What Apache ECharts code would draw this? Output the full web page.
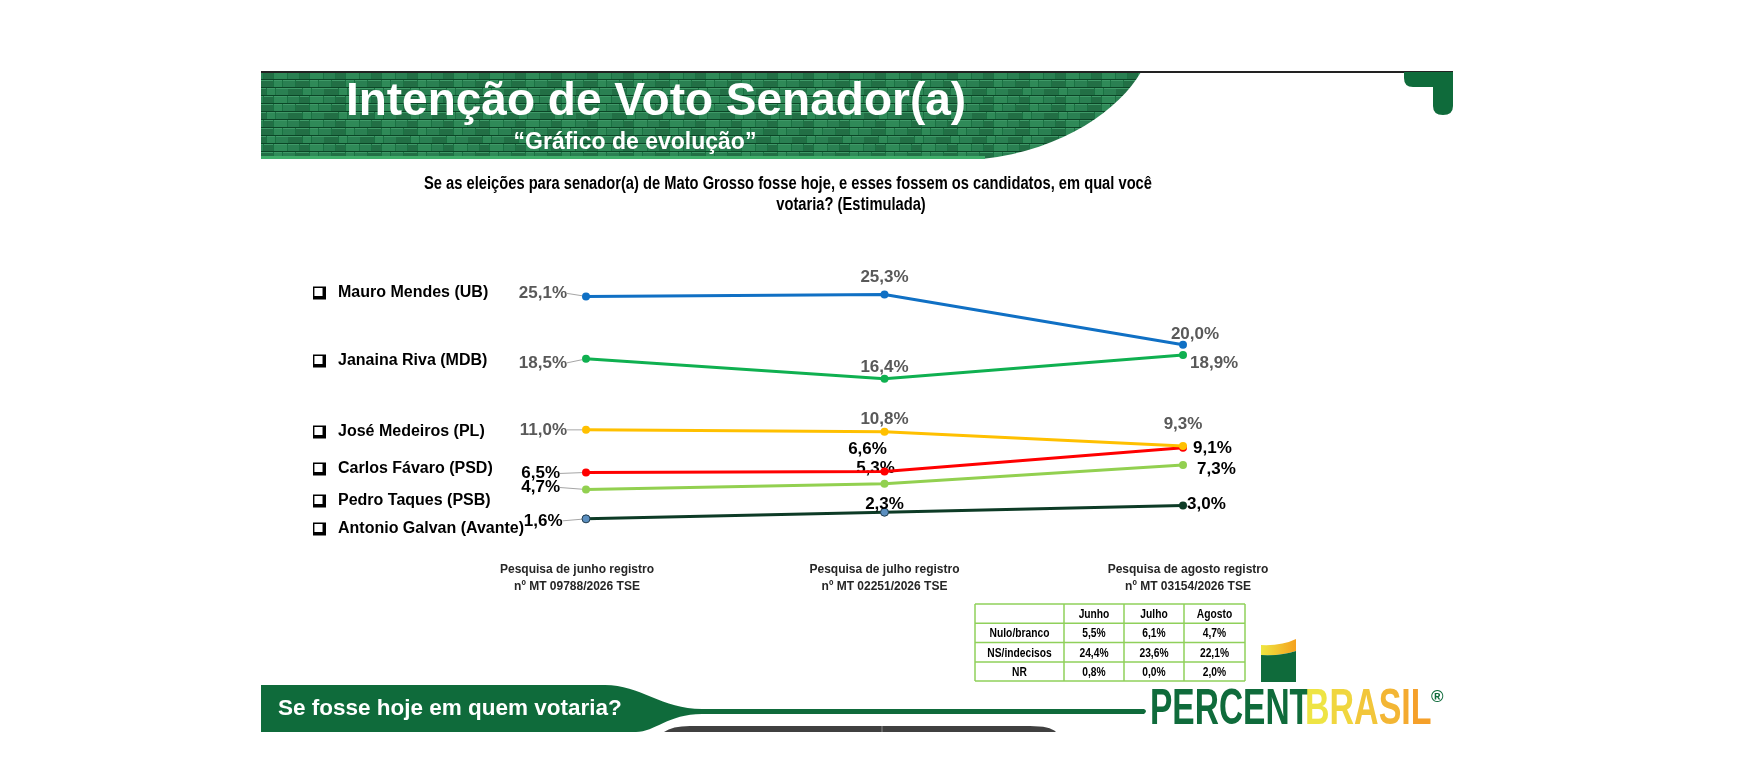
<!DOCTYPE html>
<html lang="pt-BR">
<head>
<meta charset="UTF-8" />
<title>Intenção de Voto Senador(a)</title>
</head>
<body>
<style>
* {
  margin: 0;
  padding: 0;
}
#chart {
  width: 1744px;
  height: 773px;
  background-color: #fff;
}
</style>
<div id="chart"></div>
<script src="https://cdn.jsdelivr.net/npm/echarts@6/dist/echarts.min.js"></script>
<script>
// dados
const surveys = [
  'Pesquisa de junho registro\nnº MT 09788/2026 TSE',
  'Pesquisa de julho registro\nnº MT 02251/2026 TSE',
  'Pesquisa de agosto registro\nnº MT 03154/2026 TSE'
];
const candidates = [
  'Mauro Mendes (UB)',
  'Janaina Riva (MDB)',
  'José Medeiros (PL)',
  'Carlos Fávaro (PSD)',
  'Pedro Taques (PSB)',
  'Antonio Galvan (Avante)'
];
const mauroMendes = [25.1, 25.3, 20.0];
const janainaRiva = [18.5, 16.4, 18.9];
const joseMedeiros = [11.0, 10.8, 9.3];
const carlosFavaro = [6.5, 6.6, 9.1];
const pedroTaques = [4.7, 5.3, 7.3];
const antonioGalvan = [1.6, 2.3, 3.0];

const tableColumns = ['Junho', 'Julho', 'Agosto'];
const tableRowLabels = ['Nulo/branco', 'NS/indecisos', 'NR'];
const nuloBranco = [5.5, 6.1, 4.7];
const nsIndecisos = [24.4, 23.6, 22.1];
const naoRespondeu = [0.8, 0.0, 2.0];

const SANS = "'Liberation Sans', Arial, sans-serif";
const GREEN = '#0f6b3b';
const NARROW_X = 0.82;

const fmt = v => v.toFixed(1).replace('.', ',') + '%';

// estilo de cada serie
const lineColors = ['#1070c4', '#0fb050', '#ffc000', '#ff0000', '#92d050', '#0d3b26'];
const labelColors = ['#595959', '#595959', '#595959', '#000', '#000', '#000'];
const legendCenters = [293, 361, 432, 469, 501, 529];
// posicao dos rotulos: [posicao, distancia, dx, dy, linha guia]
const labelPlacement = [
  [['left', 5, -10, -3, true], ['top', 5, 0, 0], ['top', 5, 12, 7]],
  [['left', 5, -10, 4, true], ['top', 5, 0, 6], ['right', 3, 0, 8]],
  [['left', 5, -10, 0, true], ['top', 5, 0, 5], ['top', 5, 0, -4]],
  [['left', 5, -17, 1, true], ['top', 5, -17, -5], ['right', 6, 0, 0]],
  [['left', 5, -17, -2, true], ['top', 5, -9, 2], ['right', 10, 0, 4]],
  [['left', 5, -14, 2, true], ['top', 5, 0, 10], ['right', 0, 0, -1]]
];

const seriesValues = [mauroMendes, janainaRiva, joseMedeiros, carlosFavaro, pedroTaques, antonioGalvan];

const series = seriesValues.map(function (values, s) {
  return {
    name: candidates[s],
    type: 'line',
    symbol: 'circle',
    symbolSize: 8,
    lineStyle: { width: 3, color: lineColors[s] },
    itemStyle: { color: lineColors[s] },
    label: {
      show: true,
      fontFamily: SANS,
      fontWeight: 'bold',
      fontSize: 17,
      color: labelColors[s],
      formatter: p => fmt(p.value)
    },
    labelLine: { show: false, lineStyle: { color: '#a6a6a6', width: 1 } },
    labelLayout: function (params) {
      const pl = labelPlacement[params.seriesIndex][params.dataIndex];
      return { dx: pl[2], dy: pl[3] };
    },
    data: values.map(function (v, i) {
      const pl = labelPlacement[s][i];
      const item = {
        value: v,
        label: { position: pl[0], distance: pl[1] },
        labelLine: { show: !!pl[4] }
      };
      if (s === 5 && i < 2) {
        item.itemStyle = { color: '#5b8fc0', borderColor: '#1f3b4d', borderWidth: 1 };
      }
      return item;
    }),
    z: 10 - s
  };
});

const checkbox = 'path://M0,0H12V12H0Z M1.3,1.3V8.8H8.8V1.3Z';
const legends = candidates.map(function (name, i) {
  return {
    data: [name],
    left: 313,
    top: legendCenters[i] - 8,
    padding: 0,
    icon: checkbox,
    itemWidth: 13,
    itemHeight: 13,
    itemStyle: { color: '#000' },
    selectedMode: false,
    textStyle: {
      fontFamily: SANS,
      fontWeight: 'bold',
      fontSize: 16,
      color: '#000',
      padding: [0, 0, 0, 7]
    }
  };
});

// formas livres da moldura
const shapes = {
  headerBand: 'M261,72 H1141 C1120,108 1065,150 982,159 H261 Z',
  cornerMark: 'M1404,72 H1453 V106 Q1453,115 1443,115 Q1433,115 1433,106 V87 H1413 Q1404,87 1404,78 Z',
  footerBand: 'M261,685 H605 C640,685 662,709 702,709 H1144 Q1148,711 1144,714 H702 C668,714 655,732 636,732 H261 Z',
  footerTab: 'M664,732 Q672,726 690,726 H1030 Q1050,726 1056,732 Z',
  logoTop: 'M1261,645 Q1282,646 1296,639 V651 Q1282,656 1261,655 Z',
  logoBody: 'M1261,655 Q1282,656 1296,651 V682 H1261 Z'
};
Object.keys(shapes).forEach(function (k) {
  echarts.graphic.registerShape(k, echarts.graphic.extendPath(shapes[k], {}));
});

// textura de pedra da faixa do titulo
function makeTexture() {
  const c = document.createElement('canvas');
  c.width = 36;
  c.height = 24;
  const ctx = c.getContext('2d');
  ctx.fillStyle = '#1a7142';
  ctx.fillRect(0, 0, 36, 24);
  const bricks = [[0, 0, 11, 7], [12, 0, 9, 7], [22, 0, 13, 7], [0, 8, 7, 7], [8, 8, 13, 7], [22, 8, 8, 7], [31, 8, 5, 7],
    [0, 16, 14, 7], [15, 16, 8, 7], [24, 16, 12, 7]];
  bricks.forEach(function (b, i) {
    ctx.fillStyle = i % 3 === 0 ? '#2a8052' : (i % 3 === 1 ? '#226f45' : '#2f8a58');
    ctx.fillRect(b[0], b[1], b[2], b[3]);
    ctx.fillStyle = '#3f9a68';
    ctx.fillRect(b[0], b[1], b[2], 1);
  });
  ctx.fillStyle = '#0b4526';
  for (let y = 7; y < 24; y += 8) ctx.fillRect(0, y, 36, 1);
  return { image: c, repeat: 'repeat' };
}

// tabela de brancos / indecisos
const colX = [975, 1064, 1124, 1184, 1245];
const rowY = [604, 623.3, 642.6, 662, 681];
const tableGraphics = [];
const cellText = function (text, c, r) {
  tableGraphics.push({
    type: 'text',
    x: (colX[c] + colX[c + 1]) / 2,
    y: (rowY[r] + rowY[r + 1]) / 2 + 1,
    scaleX: NARROW_X,
    style: {
      text: text,
      fontFamily: SANS,
      fontWeight: 'bold',
      fontSize: 12.5,
      fill: '#000',
      align: 'center',
      verticalAlign: 'middle'
    },
    z: 20
  });
};
tableColumns.forEach((t, c) => cellText(t, c + 1, 0));
[nuloBranco, nsIndecisos, naoRespondeu].forEach(function (row, r) {
  cellText(tableRowLabels[r], 0, r + 1);
  row.forEach((v, c) => cellText(fmt(v), c + 1, r + 1));
});
colX.forEach(function (x) {
  tableGraphics.push({ type: 'line', shape: { x1: x, y1: rowY[0], x2: x, y2: rowY[4] }, style: { stroke: '#8fd05a', lineWidth: 1.5 }, z: 19 });
});
rowY.forEach(function (y) {
  tableGraphics.push({ type: 'line', shape: { x1: colX[0], y1: y, x2: colX[4], y2: y }, style: { stroke: '#8fd05a', lineWidth: 1.5 }, z: 19 });
});

// letras do logotipo em degrade
const brasilColors = ['#eee444', '#f0d63f', '#f2c63a', '#f3b634', '#f4aa2f', '#f5a02a'];
const brasilRich = {};
brasilColors.forEach((c, i) => { brasilRich['l' + i] = { fill: c, fontFamily: SANS, fontWeight: 'bold', fontSize: 50 }; });

const decor = [
  { type: 'headerBand', style: { fill: makeTexture() } },
  { type: 'rect', shape: { x: 261, y: 156, width: 724, height: 3 }, style: { fill: '#3fae6a' } },
  { type: 'line', shape: { x1: 261, y1: 72, x2: 1453, y2: 72 }, style: { stroke: '#222', lineWidth: 2 } },
  { type: 'cornerMark', style: { fill: GREEN } },
  {
    type: 'text', x: 656, y: 102,
    style: { text: 'Intenção de Voto Senador(a)', fontFamily: SANS, fontWeight: 'bold', fontSize: 46, fill: '#fff', align: 'center', verticalAlign: 'middle' }
  },
  {
    type: 'text', x: 635, y: 143,
    style: { text: '“Gráfico de evolução”', fontFamily: SANS, fontWeight: 'bold', fontSize: 23, fill: '#fff', align: 'center', verticalAlign: 'middle' }
  },
  {
    type: 'text', x: 788, y: 184, scaleX: 0.84,
    style: { text: 'Se as eleições para senador(a) de Mato Grosso fosse hoje, e esses fossem os candidatos, em qual você', fontFamily: SANS, fontWeight: 'bold', fontSize: 17.5, fill: '#000', align: 'center', verticalAlign: 'middle' }
  },
  {
    type: 'text', x: 851, y: 205, scaleX: 0.84,
    style: { text: 'votaria? (Estimulada)', fontFamily: SANS, fontWeight: 'bold', fontSize: 17.5, fill: '#000', align: 'center', verticalAlign: 'middle' }
  },
  { type: 'footerBand', style: { fill: GREEN } },
  {
    type: 'text', x: 278, y: 709,
    style: { text: 'Se fosse hoje em quem votaria?', fontFamily: SANS, fontWeight: 'bold', fontSize: 22.5, fill: '#fff', verticalAlign: 'middle' }
  },
  { type: 'footerTab', style: { fill: '#404040' } },
  { type: 'line', shape: { x1: 882, y1: 726, x2: 882, y2: 732 }, style: { stroke: '#8a8a8a', lineWidth: 1 } },
  {
    type: 'logoTop',
    style: {
      fill: new echarts.graphic.LinearGradient(0, 0, 1, 0, [
        { offset: 0, color: '#eee640' },
        { offset: 1, color: '#f5a11e' }
      ])
    }
  },
  { type: 'logoBody', style: { fill: GREEN } },
  {
    type: 'text', x: 1150, y: 710, scaleX: 0.67,
    style: { text: 'PERCENT', fontFamily: SANS, fontWeight: 'bold', fontSize: 50, fill: GREEN, verticalAlign: 'middle' }
  },
  {
    type: 'text', x: 1305, y: 710, scaleX: 0.68,
    style: {
      text: 'BRASIL'.split('').map((ch, i) => '{l' + i + '|' + ch + '}').join(''),
      rich: brasilRich,
      fontFamily: SANS, fontWeight: 'bold', fontSize: 50, verticalAlign: 'middle'
    }
  },
  {
    type: 'text', x: 1431, y: 697,
    style: { text: '®', fontFamily: SANS, fontWeight: 'bold', fontSize: 17, fill: GREEN, verticalAlign: 'middle' }
  }
];

const axisFont = { fontFamily: SANS, fontWeight: 'bold', fontSize: 12, lineHeight: 17, color: '#262626' };

const chart = echarts.init(document.getElementById('chart'));
chart.setOption({
  animation: false,
  backgroundColor: '#fff',
  legend: legends,
  grid: { left: 586, right: 561, top: 250, bottom: 239 },
  xAxis: {
    type: 'category',
    boundaryGap: false,
    data: surveys,
    axisLine: { show: false },
    axisTick: { show: false },
    splitLine: { show: false },
    axisLabel: Object.assign({
      margin: 27,
      interval: 0,
      formatter: (value, index) => value.split('\n').map(l => '{c' + index + '|' + l + '}').join('\n'),
      rich: {
        c0: Object.assign({ padding: [0, 18, 0, 0] }, axisFont),
        c1: Object.assign({}, axisFont),
        c2: Object.assign({ padding: [0, 0, 0, 10] }, axisFont)
      }
    }, axisFont)
  },
  yAxis: { type: 'value', min: 0, max: 30, show: false },
  series: series,
  graphic: { elements: decor.concat(tableGraphics) }
});
</script>
</body>
</html>
